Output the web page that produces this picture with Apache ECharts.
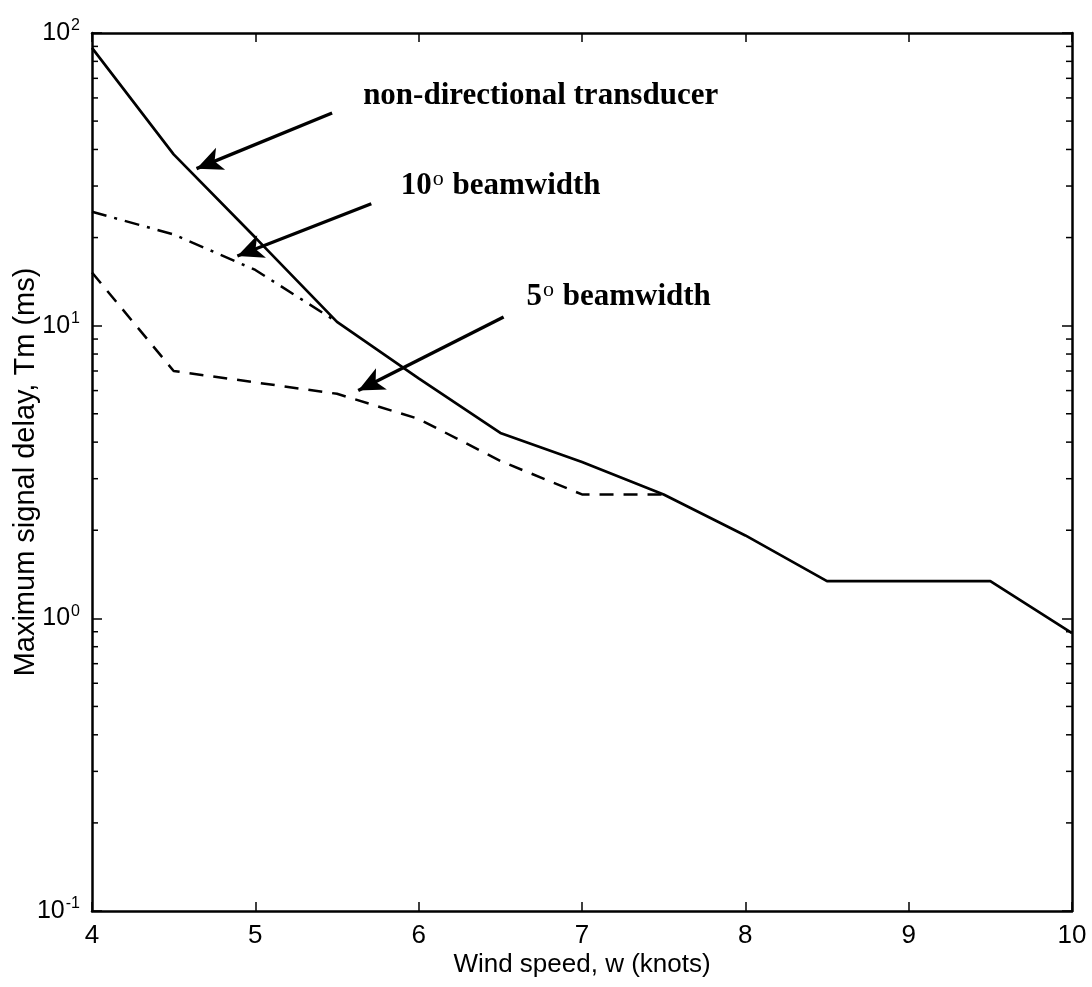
<!DOCTYPE html>
<html>
<head>
<meta charset="utf-8">
<script src="https://cdn.jsdelivr.net/npm/echarts@6/dist/echarts.min.js"></script>
<style>
html,body{margin:0;padding:0;background:#fff;}
#chart{width:1092px;height:987px;}
</style>
</head>
<body>
<div id="chart"></div>
<script>
// ---- data ----
var windSpeed = [4, 4.5, 5, 5.5, 6, 6.5, 7, 7.5, 8, 8.5, 9, 9.5, 10];
var nonDirectional = [89, 38.5, 20, 10.3, 6.6, 4.3, 3.42, 2.65, 1.92, 1.34, 1.34, 1.34, 0.89];

var windSpeed10 = [4, 4.5, 5, 5.5];
var beam10 = [24.5, 20.5, 15.5, 10.3];

var windSpeed5 = [4, 4.5, 5, 5.5, 6, 6.5, 7, 7.5];
var beam5 = [15.2, 7.0, 6.4, 5.85, 4.8, 3.45, 2.65, 2.65];

var xTicks = [4, 5, 6, 7, 8, 9, 10];
var yDecades = [0.1, 1, 10, 100];
var yMinorTicks = [0.2,0.3,0.4,0.5,0.6,0.7,0.8,0.9, 2,3,4,5,6,7,8,9, 20,30,40,50,60,70,80,90];

// annotation arrows: [tail, head] in data units
var arrowNonDir = [[5.47, 53.3], [4.64, 34.4]];
var arrow10 = [[5.71, 26.1], [4.89, 17.3]];
var arrow5 = [[6.52, 10.7], [5.63, 6.0]];
// annotation text anchors (left-middle of text)
var labelNonDir = [5.66, 61];
var label10 = [5.89, 30.0];
var label5 = [6.66, 12.5];

function pairs(xs, ys) { return xs.map(function (x, i) { return [x, ys[i]]; }); }

var sansFont = '"Liberation Sans", Arial, Helvetica, sans-serif';
var serifFont = '"Liberation Serif", "Times New Roman", serif';

var chart = echarts.init(document.getElementById('chart'), null, {renderer: 'canvas'});

var annoText = {
  fontFamily: serifFont, fontSize: 31, fontWeight: 'bold', color: '#000',
  rich: {
    sup: {fontFamily: serifFont, fontSize: 22, fontWeight: 'normal', color: '#000', verticalAlign: 'bottom', padding: [0, 1, 14, 1]},
    t: {fontFamily: serifFont, fontSize: 31, fontWeight: 'bold', color: '#000'}
  }
};

function textPoint(coord, text) {
  return {
    coord: coord,
    symbol: 'circle', symbolSize: 0,
    label: Object.assign({show: true, position: 'right', distance: 0, formatter: text}, annoText)
  };
}

function arrowLine(a) {
  return [{coord: a[0], symbol: 'none'}, {coord: a[1], symbol: 'arrow', symbolSize: [18, 26]}];
}

var option = {
  backgroundColor: '#fff',
  animation: false,
  grid: {left: 92, right: 20, top: 33, bottom: 76, show: false, containLabel: false, outerBoundsMode: 'none'},
  xAxis: [{
    type: 'value', min: 4, max: 10, interval: 1, position: 'bottom',
    axisLine: {show: true, onZero: false, lineStyle: {color: '#000', width: 2.5}},
    axisTick: {show: true, inside: true, length: 9, lineStyle: {color: '#000', width: 1.5}},
    axisLabel: {color: '#000', fontFamily: sansFont, fontSize: 26, margin: 12},
    splitLine: {show: false},
    name: 'Wind speed, w (knots)', nameLocation: 'middle', nameGap: 41, nameMoveOverlap: false,
    nameTextStyle: {color: '#000', fontFamily: sansFont, fontSize: 26}
  }, {
    type: 'value', min: 4, max: 10, interval: 1, position: 'top',
    axisLine: {show: true, onZero: false, lineStyle: {color: '#000', width: 2.5}},
    axisTick: {show: true, inside: true, length: 9, lineStyle: {color: '#000', width: 1.5}},
    axisLabel: {show: false}, splitLine: {show: false}
  }],
  yAxis: [{
    type: 'log', logBase: 10, min: 0.1, max: 100, position: 'left',
    axisLine: {show: true, onZero: false, lineStyle: {color: '#000', width: 2.5}},
    axisTick: {show: true, inside: true, length: 10, lineStyle: {color: '#000', width: 1.5}},
    axisLabel: {
      color: '#000', fontFamily: sansFont, fontSize: 25, margin: 12,
      formatter: function (v) { return '{b|10}{s|' + Math.round(Math.log10(v)) + '}'; },
      rich: {
        b: {fontFamily: sansFont, fontSize: 25, color: '#000'},
        s: {fontFamily: sansFont, fontSize: 16, color: '#000', verticalAlign: 'bottom', padding: [0, 0, 14, 1]}
      }
    },
    splitLine: {show: false}, minorTick: {show: false},
    name: 'Maximum signal delay, Tm (ms)', nameLocation: 'middle', nameGap: 52, nameMoveOverlap: false,
    nameTextStyle: {color: '#000', fontFamily: sansFont, fontSize: 29}
  }, {
    type: 'log', logBase: 10, min: 0.1, max: 100, position: 'right',
    axisLine: {show: true, onZero: false, lineStyle: {color: '#000', width: 2.5}},
    axisTick: {show: true, inside: true, length: 10, lineStyle: {color: '#000', width: 1.5}},
    axisLabel: {show: false}, splitLine: {show: false}
  }],
  series: [{
    name: 'non-directional transducer', type: 'line', xAxisIndex: 0, yAxisIndex: 0,
    data: pairs(windSpeed, nonDirectional), showSymbol: false, symbol: 'none',
    lineStyle: {color: '#000', width: 2.7, type: 'solid'},
    z: 5,
    markLine: {
      silent: true, symbol: ['none', 'arrow'], symbolSize: 22,
      lineStyle: {color: '#000', width: 3.4, type: 'solid'},
      itemStyle: {color: '#000'},
      label: {show: false},
      data: [arrowLine(arrowNonDir), arrowLine(arrow10), arrowLine(arrow5)]
    },
    markPoint: {
      silent: true,
      data: [
        textPoint(labelNonDir, '{t|non-directional transducer}'),
        textPoint(label10, '{t|10}{sup|o}{t| beamwidth}'),
        textPoint(label5, '{t|5}{sup|o}{t| beamwidth}')
      ]
    }
  }, {
    name: '10° beamwidth', type: 'line', xAxisIndex: 0, yAxisIndex: 0,
    data: pairs(windSpeed10, beam10), showSymbol: false, symbol: 'none',
    lineStyle: {color: '#000', width: 2.5, type: [15, 8, 3, 8]}
  }, {
    name: '5° beamwidth', type: 'line', xAxisIndex: 0, yAxisIndex: 0,
    data: pairs(windSpeed5, beam5), showSymbol: false, symbol: 'none',
    lineStyle: {color: '#000', width: 2.5, type: [14, 10]}
  }, {
    name: 'minorTicks', type: 'custom', xAxisIndex: 0, yAxisIndex: 0, silent: true,
    data: yMinorTicks.map(function (v) { return [4, v]; }),
    renderItem: function (params, api) {
      var v = api.value(1);
      var pl = api.coord([4, v]);
      var pr = api.coord([10, v]);
      return {
        type: 'group',
        children: [
          {type: 'line', shape: {x1: pl[0], y1: pl[1], x2: pl[0] + 6, y2: pl[1]}, style: {stroke: '#000', lineWidth: 1.5}},
          {type: 'line', shape: {x1: pr[0], y1: pr[1], x2: pr[0] - 6, y2: pr[1]}, style: {stroke: '#000', lineWidth: 1.5}}
        ]
      };
    }
  }]
};

chart.setOption(option);
</script>
</body>
</html>
